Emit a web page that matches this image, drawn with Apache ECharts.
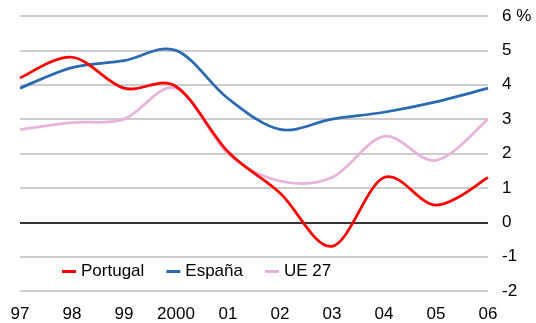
<!DOCTYPE html>
<html>
<head>
<meta charset="utf-8">
<script src="https://cdn.jsdelivr.net/npm/echarts@6/dist/echarts.min.js"></script>
<style>
  html, body { margin: 0; padding: 0; background: #fff; }
  #chart { width: 536px; height: 323px; }
</style>
</head>
<body>
<div id="chart"></div>
<script>
// Annual rates (%), 1997–2006
const years = ['97', '98', '99', '2000', '01', '02', '03', '04', '05', '06'];
const portugal = [4.2, 4.8, 3.9, 3.95, 2.05, 0.85, -0.7, 1.3, 0.5, 1.3];
const espana   = [3.9, 4.5, 4.7, 5.0, 3.6, 2.7, 3.0, 3.2, 3.5, 3.9];
const ue27     = [2.7, 2.9, 3.0, 3.9, 2.0, 1.2, 1.3, 2.5, 1.8, 3.0];

const font = 'Liberation Sans, Arial, sans-serif';

// Catmull-Rom style curve through the projected points, as a bezier path
function curvePath(pts) {
  let d = 'M' + pts[0][0] + ' ' + pts[0][1];
  for (let i = 0; i < pts.length - 1; i++) {
    const p0 = pts[Math.max(i - 1, 0)];
    const p1 = pts[i];
    const p2 = pts[i + 1];
    const p3 = pts[Math.min(i + 2, pts.length - 1)];
    const c1x = p1[0] + (p2[0] - p0[0]) / 6;
    const c1y = p1[1] + (p2[1] - p0[1]) / 6;
    const c2x = p2[0] - (p3[0] - p1[0]) / 6;
    const c2y = p2[1] - (p3[1] - p1[1]) / 6;
    d += ' C' + c1x + ' ' + c1y + ' ' + c2x + ' ' + c2y + ' ' + p2[0] + ' ' + p2[1];
  }
  return d;
}

function curveSeries(name, values, color, z) {
  return {
    name: name,
    type: 'custom',
    z: z,
    silent: true,
    itemStyle: { color: color },
    data: values.map(function (v, i) { return [i, v]; }),
    encode: { x: 0, y: 1 },
    renderItem: function (params, api) {
      if (params.dataIndex !== 0) return null;
      const pts = values.map(function (v, i) { return api.coord([i, v]); });
      return {
        type: 'path',
        shape: { pathData: curvePath(pts) },
        style: { fill: 'none', stroke: color, lineWidth: 2.75 }
      };
    }
  };
}

const chart = echarts.init(document.getElementById('chart'), null, { renderer: 'canvas' });

const series = [
  curveSeries('UE 27', ue27, '#e8b3dc', 3),
  curveSeries('España', espana, '#2b6ab3', 4),
  curveSeries('Portugal', portugal, '#ff0000', 5),
  {
    // zero reference line
    name: 'zero',
    type: 'line',
    data: [],
    z: 2,
    markLine: {
      silent: true,
      symbol: 'none',
      label: { show: false },
      lineStyle: { color: '#000', width: 1.5, type: 'solid' },
      data: [{ yAxis: 0 }]
    }
  }
];

chart.setOption({
  animation: false,
  backgroundColor: '#fff',
  grid: { left: 20, right: 48, top: 16, bottom: 32, containLabel: false },
  legend: {
    left: 62,
    top: 263,
    padding: 0,
    icon: 'rect',
    itemWidth: 14,
    itemHeight: 3,
    itemGap: 22,
    textStyle: { fontFamily: font, fontSize: 17, color: '#000' },
    data: [
      { name: 'Portugal', itemStyle: { color: '#ff0000' } },
      { name: 'España', itemStyle: { color: '#2b6ab3' } },
      { name: 'UE 27', itemStyle: { color: '#e8b3dc' } }
    ]
  },
  xAxis: {
    type: 'category',
    data: years,
    boundaryGap: false,
    axisLine: { show: false },
    axisTick: { show: false },
    splitLine: { show: false },
    axisLabel: { color: '#000', fontFamily: font, fontSize: 17, margin: 15, interval: 0 }
  },
  yAxis: {
    type: 'value',
    position: 'right',
    min: -2,
    max: 6,
    interval: 1,
    axisLine: { show: false },
    axisTick: { show: false },
    splitLine: { lineStyle: { color: '#bdbdbd', width: 1.5 } },
    axisLabel: {
      color: '#000',
      fontFamily: font,
      fontSize: 17,
      margin: 14,
      align: 'left',
      formatter: function (v) { return v === 6 ? '6 %' : String(v); }
    }
  },
  series: series
});
</script>
</body>
</html>
